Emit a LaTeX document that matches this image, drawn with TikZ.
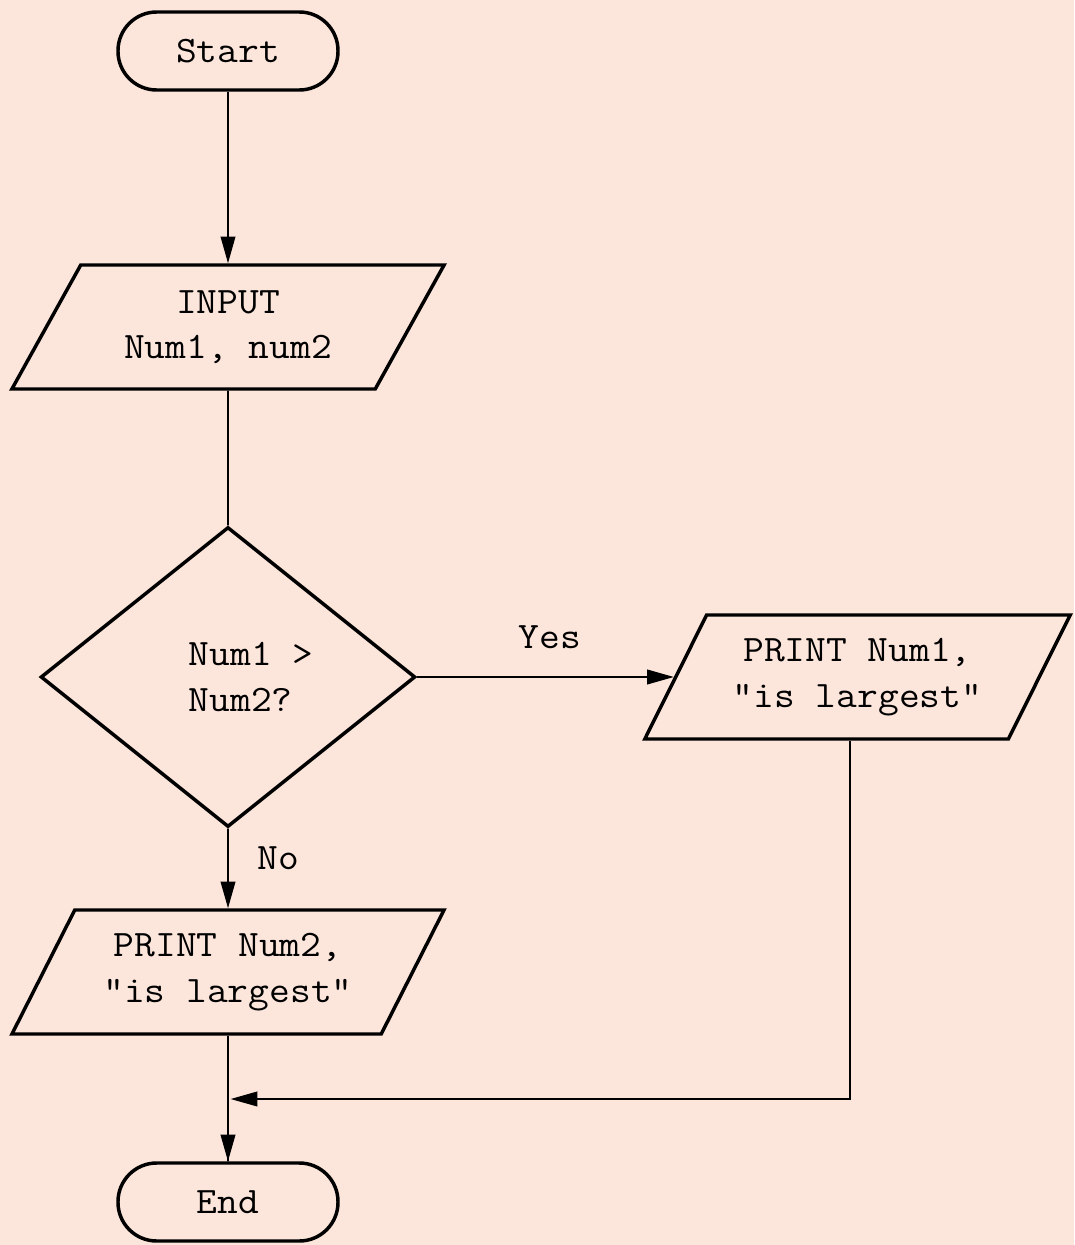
\documentclass[tikz,border=0pt]{standalone}
\usepackage{fontspec}
\setmonofont[FakeStretch=1.08]{Latin Modern Mono}
\usetikzlibrary{shapes.geometric,arrows.meta}
\definecolor{bgpink}{RGB}{252,229,219}
\tikzset{
  base/.style={draw=black, line width=2.6pt, inner sep=0pt, font=\ttfamily\fontsize{28}{34}\selectfont, align=center},
  term/.style={base, rectangle, rounded corners=29pt, minimum width=165pt, minimum height=58.5pt},
  io/.style={base, trapezium, trapezium left angle=56.5, trapezium right angle=123.5, trapezium stretches=true, minimum width=325pt, minimum height=93pt},
  dec/.style={base, diamond, minimum width=281pt, minimum height=225pt},
  lbl/.style={font=\ttfamily\fontsize{28}{34}\selectfont, inner sep=0pt},
  conn/.style={line width=1.3pt, draw=black},
  arr/.style={conn, -{Triangle[length=20pt,width=11pt]}}
}
\begin{document}
\begin{tikzpicture}[x=0.75pt,y=-0.75pt]
\fill[bgpink] (0,0) rectangle (1074,1245);
\useasboundingbox (0,0) rectangle (1074,1245);
\node[term] (start) at (228,51) {Start};
\node[io] (inp) at (228,327) {INPUT\\Num1, num2};
\node[dec] (dec) at (228,677) {};
\node[lbl, align=left] (dtxt) at (251,677) {Num1 >\\Num2?};
\node[io, minimum width=320pt] (p1) at (857.5,677) {PRINT Num1,\\"is largest"};
\node[io] (p2) at (228,972) {PRINT Num2,\\"is largest"};
\node[term] (end) at (228,1202) {End};
\coordinate (join) at (228,1099);
\node[lbl] (yes) at (550,637) {Yes};
\node[lbl] (no) at (278,858) {No};
\draw[arr] (start) -- (inp);
\draw[conn] (inp) -- (dec.north);
\draw[arr] (dec.east) -- (p1);
\draw[arr] (dec.south) -- (p2);
\draw[conn] (p2.south) -- (end.north);
\draw[arr] (join) -- (end.north);
\draw[arr] ([xshift=-5.5pt]p1.south) |- ([xshift=2pt]join);
\end{tikzpicture}
\end{document}
